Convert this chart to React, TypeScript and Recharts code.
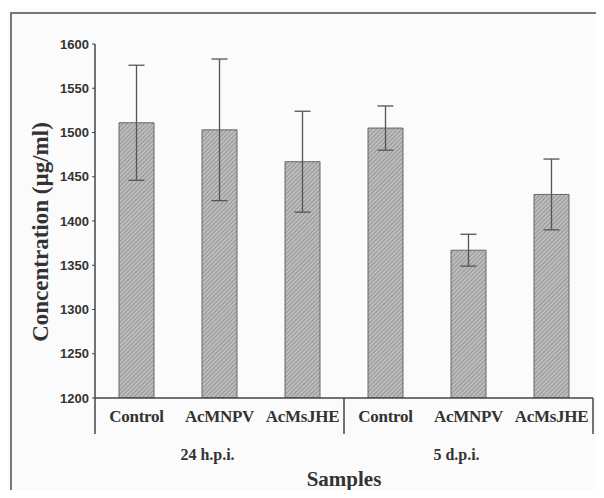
import { ComposedChart, Bar, XAxis, YAxis, ErrorBar } from "recharts"

const samples = ["Control", "AcMNPV", "AcMsJHE", "Control", "AcMNPV", "AcMsJHE"]
const groups = ["24 h.p.i.", "24 h.p.i.", "24 h.p.i.", "5 d.p.i.", "5 d.p.i.", "5 d.p.i."]
const concentration = [1511, 1503, 1467, 1505, 1367, 1430]
const deviation = [65, 80, 57, 25, 18, 40]
const yTicks = [1200, 1250, 1300, 1350, 1400, 1450, 1500, 1550, 1600]

const data = samples.map((name, i) => ({
  key: `${groups[i]}-${name}`,
  name,
  group: groups[i],
  value: concentration[i],
  err: deviation[i],
}))

const serif = "'Liberation Serif', 'Times New Roman', serif"

function SampleTick(props: any) {
  const { x, y, payload, index } = props
  const half = payload?.offset ?? 0
  const row = data[index]
  const first = index === 0 || data[index - 1].group !== row.group
  const last = index === data.length - 1
  const middle = index === 1 || index === 4
  return (
    <g>
      {first && (
        <line x1={x - half} y1={y} x2={x - half} y2={y + 36} stroke="#444" strokeWidth={1.5} />
      )}
      {last && (
        <line x1={x + half} y1={y} x2={x + half} y2={y + 36} stroke="#444" strokeWidth={1.5} />
      )}
      <text x={x} y={y + 24} textAnchor="middle" fontFamily={serif} fontWeight="bold" fontSize={17} fill="#333" letterSpacing={-0.3}>
        {row.name}
      </text>
      {middle && (
        <text x={x - 12} y={y + 62} textAnchor="middle" fontFamily={serif} fontWeight="bold" fontSize={16} fill="#333">
          {row.group}
        </text>
      )}
    </g>
  )
}

function SamplesLabel({ viewBox }: any) {
  const cx = viewBox.x + viewBox.width / 2
  return (
    <text x={cx} y={viewBox.y + 88} textAnchor="middle" fontFamily={serif} fontWeight="bold" fontSize={21} fill="#333">
      Samples
    </text>
  )
}

function ConcLabel({ viewBox }: any) {
  const cy = viewBox.y + viewBox.height / 2 + 11
  return (
    <text
      x={40}
      y={cy}
      transform={`rotate(-90, 40, ${cy})`}
      textAnchor="middle"
      dominantBaseline="central"
      fontFamily={serif}
      fontWeight="bold"
      fontSize={23}
      fill="#333"
    >
      Concentration (µg/ml)
    </text>
  )
}

export default function App() {
  return (
    <div style={{ position: "relative", width: 604, height: 498, margin: -8, background: "#fbfbfb" }}>
      <div
        style={{
          position: "absolute",
          left: 10,
          top: 12,
          right: 0,
          bottom: 0,
          borderTop: "2px solid #777",
          borderLeft: "2px solid #777",
        }}
      />
      <ComposedChart
        width={604}
        height={498}
        data={data}
        margin={{ top: 44, right: 11, left: 0, bottom: 0 }}
      >
        <defs>
          <pattern id="hatch" width="3" height="3" patternUnits="userSpaceOnUse" patternTransform="rotate(45)">
            <rect width="3" height="3" fill="#bdbdbd" />
            <line x1="0" y1="0" x2="0" y2="3" stroke="#7c7c7c" strokeWidth="1.2" />
          </pattern>
        </defs>
        <XAxis
          dataKey="key"
          height={100}
          tickLine={false}
          tickSize={0}
          tickMargin={0}
          interval={0}
          axisLine={{ stroke: "#444", strokeWidth: 1.5 }}
          tick={<SampleTick />}
          label={{ content: SamplesLabel }}
        />
        <YAxis
          width={95}
          domain={[1200, 1600]}
          ticks={yTicks}
          allowDataOverflow
          tickSize={3}
          tickMargin={3}
          axisLine={{ stroke: "#444", strokeWidth: 1.5 }}
          tickLine={{ stroke: "#444" }}
          tick={{ fontFamily: "'Liberation Sans Narrow', 'Liberation Sans', Arial, sans-serif", fontWeight: "bold", fontSize: 13, fill: "#333" }}
          label={{ content: ConcLabel }}
        />
        <Bar dataKey="value" barSize={35} fill="url(#hatch)" stroke="#666" strokeWidth={1} isAnimationActive={false}>
          <ErrorBar dataKey="err" width={8} stroke="#555" strokeWidth={1.3} />
        </Bar>
      </ComposedChart>
    </div>
  )
}
